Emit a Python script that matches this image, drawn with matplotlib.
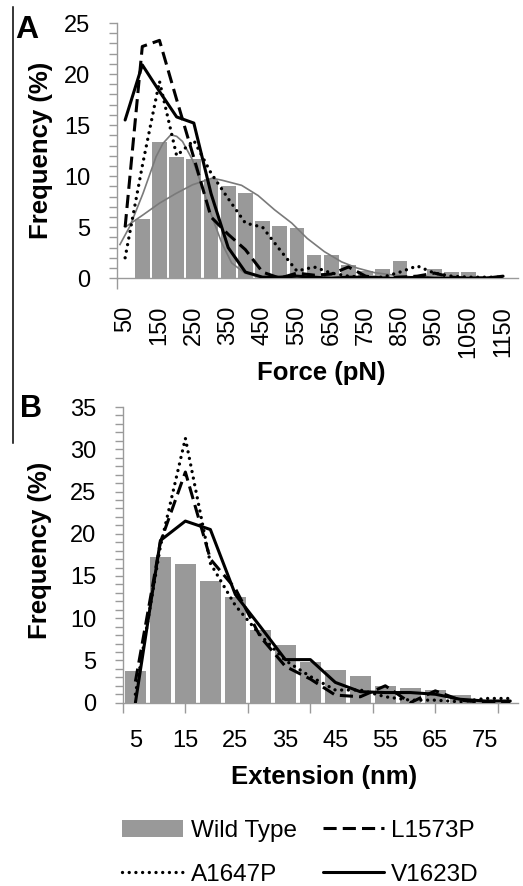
import numpy as np
import matplotlib
matplotlib.use("Agg")
import matplotlib.pyplot as plt
from matplotlib.ticker import MultipleLocator
from matplotlib.patches import Patch
from matplotlib.lines import Line2D

plt.rcParams["font.family"] = ["Liberation Sans", "DejaVu Sans"]

BAR = "#999999"
AXIS = "#9a9a9a"
FIT = "#7a7a7a"

# ---- panel A: unfolding force (50 pN bins) ----
force_bins = [50, 100, 150, 200, 250, 300, 350, 400, 450, 500, 550, 600,
              650, 700, 750, 800, 850, 900, 950, 1000, 1050, 1100, 1150]
force_wt = [0, 5.8, 13.3, 11.9, 11.7, 9.7, 9.0, 8.3, 5.65, 5.07, 4.9, 2.25,
            2.25, 1.27, 0.72, 0.88, 1.73, 0.2, 0.88, 0.6, 0.6, 0.26, 0.05]
force_l1573p = [5.0, 22.7, 23.3, 17.5, 11.8, 6.0, 4.3, 2.8, 0.6, 0.0, 0.5, 0.3,
                0.4, 1.1, 0.2, 0.0, 0.1, 0.2, 0.5, 0.1, 0.0, 0.0, 0.1]
force_a1647p = [2.0, 11.0, 19.3, 12.0, 13.5, 10.3, 7.8, 5.4, 5.0, 2.8, 0.7, 1.1,
                0.5, 0.2, 0.1, 0.1, 0.6, 1.2, 0.5, 0.2, 0.1, 0.1, 0.1]
force_v1623d = [15.5, 20.9, 18.3, 15.8, 15.2, 8.3, 3.0, 0.6, 0.1, 0.1, 0.2, 0.1,
                0.0, 0.1, 0.1, 0.0, 0.0, 0.1, 0.0, 0.0, 0.0, 0.0, 0.2]

# gaussian fits (force in pN, frequency in %)
fit1_force = [35, 64, 102, 140, 160, 183, 200, 217, 246, 274, 303, 332, 360, 398, 437, 465]
fit1_freq = [3.3, 5.1, 8.3, 11.9, 13.2, 14.05, 13.9, 13.4, 11.6, 9.0, 6.0, 3.4, 1.5, 0.5, 0.15, 0.0]
fit2_force = [50, 102, 150, 198, 246, 303, 332, 389, 437, 485, 535, 580, 630,
              680, 725, 775, 825, 875, 900]
fit2_freq = [5.0, 6.2, 7.35, 8.3, 9.15, 9.8, 9.6, 9.1, 8.1, 6.7, 5.4, 3.9, 2.6,
             1.6, 1.0, 0.55, 0.33, 0.15, 0.1]

# ---- panel B: extension (5 nm bins) ----
ext_bins = [5, 10, 15, 20, 25, 30, 35, 40, 45, 50, 55, 60, 65, 70, 75, 80]
ext_wt = [3.8, 17.2, 16.4, 14.4, 12.5, 8.6, 6.8, 4.85, 3.87, 3.2, 2.0, 1.78,
          1.5, 0.87, 0.1, 0.0]
ext_l1573p = [2.5, 19.0, 27.3, 17.0, 13.5, 7.8, 4.3, 2.8, 0.9, 0.7, 2.0, 0.0,
              1.4, 0.3, 0.0, 0.0]
ext_a1647p = [1.0, 18.5, 31.3, 16.5, 11.5, 8.0, 5.0, 3.1, 1.5, 1.5, 0.7, 0.3,
              0.3, 0.1, 0.5, 0.5]
ext_v1623d = [0.0, 19.2, 21.5, 20.5, 12.8, 9.0, 5.1, 5.1, 2.4, 1.3, 1.2, 1.2,
              1.0, 0.4, 0.2, 0.2]

DASH = dict(color="black", lw=2.2, dashes=(4.3, 2.0))
DOT = dict(color="black", lw=2.4, dashes=(0.01, 2.0), dash_capstyle="round")
SOLID = dict(color="black", lw=2.2, solid_capstyle="round")


def style_axes(ax, ymax):
    for s in ["top", "right"]:
        ax.spines[s].set_visible(False)
    for s in ["left", "bottom"]:
        ax.spines[s].set_color(AXIS)
        ax.spines[s].set_linewidth(1.0)
    ax.set_ylim(0, ymax)
    ax.yaxis.set_major_locator(MultipleLocator(5))
    ax.yaxis.set_minor_locator(MultipleLocator(1))
    ax.tick_params(axis="y", which="both", length=6, width=1, color=AXIS,
                   direction="out", labelsize=17, pad=13)
    ax.xaxis.remove_overlapping_locs = False


def draw_panel(ax, wt, l1573p, a1647p, v1623d, width):
    x = np.arange(len(wt))
    ax.bar(x, wt, width=width, color=BAR, zorder=1)
    ax.plot(x, a1647p, zorder=3, **DOT)
    ax.plot(x, l1573p, zorder=3, **DASH)
    ax.plot(x, v1623d, zorder=4, **SOLID)


fig = plt.figure(figsize=(5.23, 8.86), dpi=100)

# panel A
axA = fig.add_axes([0.2228, 0.686, 0.767, 0.288])
draw_panel(axA, force_wt, force_l1573p, force_a1647p, force_v1623d, 0.86)
step_a = force_bins[1] - force_bins[0]
axA.plot((np.array(fit1_force) - force_bins[0]) / step_a, fit1_freq,
         color=FIT, lw=1.2, zorder=2)
axA.plot((np.array(fit2_force) - force_bins[0]) / step_a, fit2_freq,
         color=FIT, lw=1.2, zorder=2)
style_axes(axA, 25)
axA.set_xlim(-0.5, 22.85)
axA.set_xticks(np.arange(0, len(force_bins), 2),
               [str(v) for v in force_bins[::2]])
axA.set_xticks([-0.5], minor=True)
axA.tick_params(axis="x", which="major", length=0, labelsize=17, pad=20,
                labelrotation=90)
axA.tick_params(axis="x", which="minor", length=8, width=1, color=AXIS)

# panel B
axB = fig.add_axes([0.235, 0.2069, 0.755, 0.3337])
draw_panel(axB, ext_wt, ext_l1573p, ext_a1647p, ext_v1623d, 0.82)
style_axes(axB, 35)
axB.set_xlim(-0.5, 15.3)
axB.set_xticks([-0.5, 2.0, 4.5, 7.0, 9.5, 12.0, 14.5])
axB.set_xticklabels([])
axB.set_xticks(np.arange(0, len(ext_bins), 2),
               [str(v) for v in ext_bins[::2]], minor=True)
axB.tick_params(axis="x", which="major", length=7, width=1, color=AXIS)
axB.tick_params(axis="x", which="minor", length=0, labelsize=17, pad=20)

# axis titles
fig.text(41 / 523, 1 - 150 / 886, "Frequency (%)", rotation=90, ha="center",
         va="center", fontsize=18.5, fontweight="bold")
fig.text(40 / 523, 1 - 550 / 886, "Frequency (%)", rotation=90, ha="center",
         va="center", fontsize=18.5, fontweight="bold")
fig.text(321 / 523, 1 - 373 / 886, "Force (pN)", ha="center", va="center",
         fontsize=18.5, fontweight="bold")
fig.text(324 / 523, 1 - 777 / 886, "Extension (nm)", ha="center", va="center",
         fontsize=18.5, fontweight="bold")

# panel letters and the side rule
fig.text(15 / 523, 1 - 38 / 886, "A", ha="left", va="baseline",
         fontsize=23, fontweight="bold")
fig.text(20 / 523, 1 - 417 / 886, "B", ha="left", va="baseline",
         fontsize=22, fontweight="bold")
fig.add_artist(Line2D([13 / 523, 13 / 523], [1 - 7 / 886, 1 - 443 / 886],
                      color="black", lw=1.1))

handles = [Patch(facecolor=BAR, edgecolor="none"),
           Line2D([], [], **DOT),
           Line2D([], [], **DASH),
           Line2D([], [], **SOLID)]
labels = ["Wild Type", "A1647P", "L1573P", "V1623D"]
fig.legend(handles, labels, loc="center", bbox_to_anchor=(0.575, 0.0375),
           ncol=2, frameon=False, fontsize=17.5, handlelength=2.5,
           handletextpad=0.3, columnspacing=1.1, labelspacing=0.9)

fig.savefig("out.png", dpi=100)
